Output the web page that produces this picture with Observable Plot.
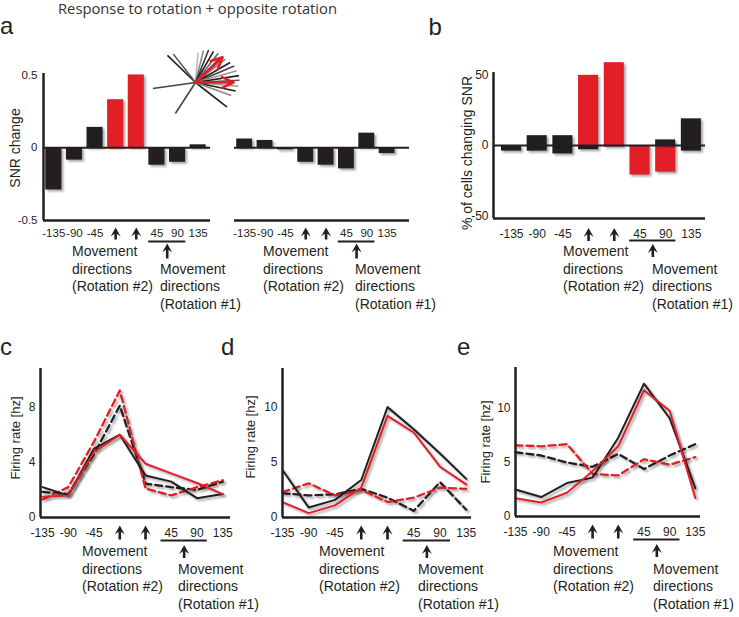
<!DOCTYPE html>
<html>
<head>
<meta charset="utf-8">
<script src="https://cdn.jsdelivr.net/npm/d3@7"></script>
<script src="https://cdn.jsdelivr.net/npm/@observablehq/plot@0.6"></script>
<style>
  body { margin: 0; background: #fff; }
  #fig { position: relative; width: 739px; height: 617px; overflow: hidden; background: #fff; }
  #fig svg { position: absolute; left: 0; top: 0; }
  #fig g[aria-label="rect"], #fig g[aria-label="line"] {
    filter: drop-shadow(2px 2px 1.2px rgba(0, 0, 0, 0.35));
  }
</style>
</head>
<body>
<div id="fig"></div>
<script>
const W = 739, H = 617;
const INK = "#231f20", RED = "#e21f26";
const FONT = "'Liberation Sans', Arial, Helvetica, sans-serif";

// Movement-direction axis shared by every panel
const dirIndex = [0, 1, 2, 3, 4, 5, 6, 7];
const dirTicks = ["-135", "-90", "-45", "", "", "45", "90", "135"];
const rot2Arrows = [3, 4];          // directions trained in rotation #2
const rot1Arrow = [5.5];            // rotation #1 direction (between 45 and 90)
const rot1Underline = [4.6, 6.4];

// a: SNR change, rotation vs opposite rotation
const snrRotation = [-0.29, -0.085, 0.14, 0.33, 0.50, -0.12, -0.10, 0.02];
const snrOpposite = [0.06, 0.05, -0.015, -0.10, -0.12, -0.145, 0.10, -0.04];
const snrSignificant = [0, 0, 0, 1, 1, 0, 0, 0];

// inset: preferred directions of single cells
const starAngles  = [136, 128, -38, 188, 237, 85, 76, 68, 60, 52, 45, 38, 30, 23, 16, 9, 3, -5, -12, -20];
const starLengths = [39, 36, 40, 43, 37, 30, 33, 35, 36, 37, 35, 38, 40, 42, 43, 44, 44, 43, 41, 38];
const starShades  = ["#231f20", "#555", "#231f20", "#444", "#444", "#bbb", "#888", "#333", "#231f20", "#666",
                     "#231f20", "#888", "#231f20", "#444", "#999", "#231f20", "#555", "#999", "#231f20", "#888"];
const meanAngles  = [43, 0];
const meanLengths = [37, 38];

// b: % of cells changing SNR
const pctIncrease = [0, 7, 7, 50, 59, 0, 4, 19];
const pctDecrease = [-4, -4, -6, -3, -1, -21, -19, -4];
const increaseSig = [0, 0, 0, 1, 1, 0, 0, 0];
const decreaseSig = [0, 0, 0, 0, 0, 1, 1, 0];

// c, d, e: firing rate of three example cells
const cRotBlack = [2.2, 1.6, 5.0, 6.0, 3.05, 2.6, 1.4, 1.7];
const cRotRed   = [1.5, 1.6, 4.75, 6.0, 3.9, 3.2, 2.5, 1.7];
const cOppBlack = [1.85, 1.7, 4.6, 8.1, 2.45, 2.2, 2.0, 2.6];
const cOppRed   = [1.3, 2.2, 5.5, 9.2, 2.1, 1.6, 2.2, 2.7];

const dRotBlack = [4.3, 0.9, 1.6, 3.4, 10.0, 8.0, 5.8, 3.5];
const dRotRed   = [1.4, 0.4, 1.1, 2.7, 9.2, 7.7, 4.6, 3.0];
const dOppBlack = [2.2, 2.0, 2.1, 2.6, 1.8, 0.6, 3.2, 0.7];
const dOppRed   = [2.3, 3.1, 2.0, 2.5, 1.4, 1.8, 2.7, 2.6];

const eRotBlack = [2.5, 1.8, 3.1, 3.6, 7.3, 12.3, 9.1, 2.6];
const eRotRed   = [1.7, 1.3, 2.2, 4.2, 6.5, 11.7, 9.8, 1.7];
const eOppBlack = [5.95, 5.65, 5.0, 4.6, 5.8, 4.4, 5.65, 6.7];
const eOppRed   = [6.6, 6.5, 6.7, 3.95, 3.8, 5.3, 4.8, 5.5];

// notched arrowhead on a thin shaft, pointing up, centred on the anchor
function upArrow(len) {
  const h = len / 2;
  return {
    draw(ctx) {
      ctx.moveTo(0, -h);
      ctx.lineTo(5, -h + 9);
      ctx.lineTo(1.3, -h + 6.3);
      ctx.lineTo(1.3, h);
      ctx.lineTo(-1.3, h);
      ctx.lineTo(-1.3, -h + 6.3);
      ctx.lineTo(-5, -h + 9);
      ctx.closePath();
    }
  };
}

const fig = document.getElementById("fig");

// frame = [left, right, top, bottom] in page pixels
function panel({frame, xDomain, yDomain, yTicks, yPad = 6, xPad = 9, tickFont = "12px", marks, arrowDy, underDy, underArrowDy, arrowLen = 12, underArrowLen = 14}) {
  const [l, r, t, b] = frame;
  const yBase = yDomain[0];
  const chart = Plot.plot({
    width: W, height: H,
    marginLeft: l, marginRight: W - r, marginTop: t, marginBottom: H - b,
    style: {overflow: "visible", background: "transparent", fontFamily: FONT, fontSize: tickFont, color: INK},
    x: {domain: xDomain, ticks: dirIndex, tickFormat: i => dirTicks[i], tickSize: 0, tickPadding: xPad, label: null},
    y: yTicks
      ? {domain: yDomain, ticks: yTicks, tickFormat: d => String(d), tickSize: 0, tickPadding: yPad, label: null}
      : {domain: yDomain, axis: null},
    marks: [
      ...marks,
      Plot.dot(rot2Arrows, {x: d => d, y: () => yBase, r: 6, symbol: upArrow(arrowLen), fill: INK, stroke: "none", dy: arrowDy}),
      Plot.ruleY([yBase], {x1: rot1Underline[0], x2: rot1Underline[1], dy: underDy, stroke: INK, strokeWidth: 1.8}),
      Plot.dot(rot1Arrow, {x: d => d, y: () => yBase, r: 6, symbol: upArrow(underArrowLen), fill: INK, stroke: "none", dy: underArrowDy})
    ]
  });
  fig.appendChild(chart);
  return chart;
}

const rows = (vals, extra = {}) => vals.map((v, i) => ({i, v, ...extra}));
const barHalf = 0.39;

// ---- a (left): rotation
{
  const data = snrRotation.map((v, i) => ({i, v, sig: snrSignificant[i]}));
  const xDomain = [-0.5, 7.6], yDomain = [-0.5, 0.51];
  panel({
    frame: [43, 210, 73, 220], xDomain, yDomain, yTicks: [-0.5, 0, 0.5], yPad: 6, xPad: 8.5, tickFont: "11.5px",
    arrowDy: 13, underDy: 21, underArrowDy: 30.5, arrowLen: 12, underArrowLen: 15,
    marks: [
      Plot.rect(data, {x1: d => d.i - barHalf, x2: d => d.i + barHalf, y1: 0, y2: "v", fill: d => d.sig ? RED : INK}),
      Plot.ruleY([0], {stroke: INK, strokeWidth: 2}),
      Plot.ruleX([xDomain[0]], {stroke: INK, strokeWidth: 2.5}),
      Plot.ruleY([yDomain[0]], {stroke: INK, strokeWidth: 2.5})
    ]
  });
}

// ---- a (right): opposite rotation
{
  const data = rows(snrOpposite);
  const xDomain = [-0.5, 8.1], yDomain = [-0.5, 0.51];
  panel({
    frame: [234, 409, 73, 220], xDomain, yDomain, yTicks: null, xPad: 8.5, tickFont: "11.5px",
    arrowDy: 13, underDy: 21, underArrowDy: 30.5, arrowLen: 12, underArrowLen: 15,
    marks: [
      Plot.rect(data, {x1: d => d.i - barHalf, x2: d => d.i + barHalf, y1: 0, y2: "v", fill: INK}),
      Plot.ruleY([0], {stroke: INK, strokeWidth: 2}),
      Plot.ruleY([yDomain[0]], {stroke: INK, strokeWidth: 2.5})
    ]
  });
}

// ---- inset: cell preferred directions and mean vectors
{
  const rad = Math.PI / 180;
  const cells = starAngles.map((a, k) => ({x: starLengths[k] * Math.cos(a * rad), y: starLengths[k] * Math.sin(a * rad), c: starShades[k]}));
  const means = meanAngles.map((a, k) => ({x: meanLengths[k] * Math.cos(a * rad), y: meanLengths[k] * Math.sin(a * rad)}));
  const chart = Plot.plot({
    width: W, height: H,
    marginLeft: 150, marginRight: W - 240, marginTop: 37, marginBottom: H - 127,
    style: {overflow: "visible", background: "transparent"},
    x: {domain: [-45, 45], axis: null},
    y: {domain: [-45, 45], axis: null},
    marks: [
      Plot.link(cells, {x1: 0, y1: 0, x2: "x", y2: "y", stroke: "c", strokeWidth: 1.6}),
      Plot.arrow(means, {x1: 0, y1: 0, x2: "x", y2: "y", stroke: RED, strokeWidth: 2.6, headLength: 9, headAngle: 50})
    ]
  });
  fig.appendChild(chart);
}

// ---- b: % of cells changing SNR
{
  const up = pctIncrease.map((v, i) => ({i, v, sig: increaseSig[i]}));
  const down = pctDecrease.map((v, i) => ({i, v, sig: decreaseSig[i]}));
  const xDomain = [-0.7, 7.55], yDomain = [-52, 52];
  panel({
    frame: [493, 705, 72, 218], xDomain, yDomain, yTicks: [-50, 0, 50], yPad: 5, xPad: 10.5,
    arrowDy: 16, underDy: 22, underArrowDy: 32, arrowLen: 13, underArrowLen: 13,
    marks: [
      Plot.rect(down, {x1: d => d.i - barHalf, x2: d => d.i + barHalf, y1: 0, y2: "v", fill: d => d.sig ? RED : INK}),
      Plot.rect(up, {x1: d => d.i - barHalf, x2: d => d.i + barHalf, y1: 0, y2: "v", fill: d => d.sig ? RED : INK}),
      Plot.ruleY([0], {stroke: INK, strokeWidth: 2}),
      Plot.ruleX([xDomain[0]], {stroke: INK, strokeWidth: 2.5}),
      Plot.ruleY([yDomain[0]], {stroke: INK, strokeWidth: 2.5})
    ]
  });
}

// ---- c, d, e: tuning curves
function tuning(frame, xDomain, yDomain, yTicks, rotBlack, rotRed, oppBlack, oppRed) {
  const dash = "7,4";
  panel({
    frame, xDomain, yDomain, yTicks, yPad: 5, xPad: 10.5,
    arrowDy: 15, underDy: 23, underArrowDy: 34, arrowLen: 14, underArrowLen: 13,
    marks: [
      Plot.line(rows(oppBlack), {x: "i", y: "v", stroke: INK, strokeWidth: 2.3, strokeDasharray: dash}),
      Plot.line(rows(oppRed), {x: "i", y: "v", stroke: RED, strokeWidth: 2.3, strokeDasharray: dash}),
      Plot.line(rows(rotBlack), {x: "i", y: "v", stroke: INK, strokeWidth: 2}),
      Plot.line(rows(rotRed), {x: "i", y: "v", stroke: RED, strokeWidth: 2}),
      Plot.ruleX([xDomain[0]], {stroke: INK, strokeWidth: 2.5}),
      Plot.ruleY([yDomain[0]], {stroke: INK, strokeWidth: 2.5})
    ]
  });
}
tuning([40, 230, 368, 517], [-0.08, 7.3], [0, 10.8], [0, 4, 8], cRotBlack, cRotRed, cOppBlack, cOppRed);
tuning([282, 471, 368, 517], [0, 7.2], [0, 13.5], [0, 5, 10], dRotBlack, dRotRed, dOppBlack, dOppRed);
tuning([515, 700, 367, 516], [0, 7.2], [0, 13.8], [0, 5, 10], eRotBlack, eRotRed, eOppBlack, eOppRed);

// ---- text: title, panel letters, axis titles, direction captions
const svg = d3.select(fig).append("svg")
  .attr("width", W).attr("height", H)
  .style("font-family", FONT).attr("fill", INK);

svg.append("text").attr("x", 58).attr("y", 14)
  .style("font-family", "'Open Sans', 'Noto Sans', sans-serif").attr("font-size", 14).attr("fill", "#333")
  .attr("textLength", 279).attr("lengthAdjust", "spacingAndGlyphs")
  .text("Response to rotation + opposite rotation");

const letters = [["a", 0, 34], ["b", 428.5, 35], ["c", 0, 355], ["d", 221, 355], ["e", 457, 355]];
for (const [t, x, y] of letters) svg.append("text").attr("x", x).attr("y", y).attr("font-size", 24).text(t);

const yTitles = [
  ["SNR change", 15, 148, 14],
  ["% of cells changing SNR", 467, 153, 14],
  ["Firing rate [hz]", 15, 438, 13],
  ["Firing rate [hz]", 250, 437, 13],
  ["Firing rate [hz]", 485, 442, 13]
];
for (const [t, x, y, s] of yTitles) {
  svg.append("text").attr("transform", `translate(${x},${y}) rotate(-90)`)
    .attr("text-anchor", "middle").attr("dy", "0.35em").attr("font-size", s).text(t);
}

const rot2Lines = ["Movement", "directions", "(Rotation #2)"];
const rot1Lines = ["Movement", "directions", "(Rotation #1)"];
function caption(lines, x, y0) {
  lines.forEach((t, k) => svg.append("text").attr("x", x).attr("y", y0 + k * 17.5).attr("font-size", 14).text(t));
}
caption(rot2Lines, 72, 256);  caption(rot1Lines, 160, 273.5);
caption(rot2Lines, 263, 256); caption(rot1Lines, 355, 273.5);
caption(rot2Lines, 563, 256); caption(rot1Lines, 652, 273.5);
caption(rot2Lines, 82, 556);  caption(rot1Lines, 178, 573.5);
caption(rot2Lines, 319, 556); caption(rot1Lines, 418, 573.5);
caption(rot2Lines, 553, 556); caption(rot1Lines, 653, 573.5);
</script>
</body>
</html>
